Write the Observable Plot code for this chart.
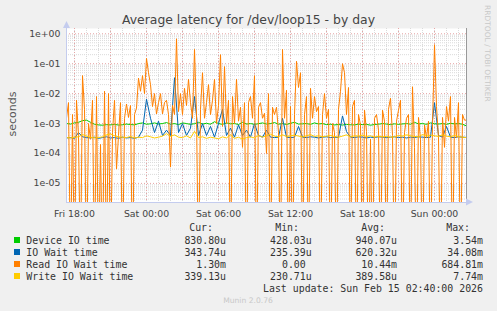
<!DOCTYPE html>
<html><head><meta charset="utf-8">
<script src="https://cdn.jsdelivr.net/npm/d3@7"></script>
<script src="https://cdn.jsdelivr.net/npm/@observablehq/plot@0.6"></script>
<style>
body{margin:0;background:#f0f0f0;width:497px;height:311px;overflow:hidden;position:relative;font-family:"DejaVu Sans"}
#chart{position:absolute;left:0;top:0}
#overlay{position:absolute;left:0;top:0;pointer-events:none}
</style></head><body>
<div id="chart"></div>
<svg id="overlay" width="497" height="311"></svg>
<script>
// ---- data ----
const startTime = "2026-02-13T17:20:00Z";
const endTime = "2026-02-15T02:40:00Z";
const readStepMin = 10;
const otherStepMin = 20;

const deviceIO = [1.0e-3,9.6e-4,1.05e-3,1.1e-3,1.25e-3,1.3e-3,1.1e-3,9.5e-4,9.0e-4,8.8e-4,
 9.2e-4,9.0e-4,9.4e-4,8.9e-4,9.1e-4,9.6e-4,9.3e-4,9.0e-4,1.0e-3,1.05e-3,
 9.5e-4,9.8e-4,1.05e-3,9.7e-4,1.0e-3,1.08e-3,9.5e-4,1.0e-3,9.2e-4,1.05e-3,
 1.0e-3,9.4e-4,9.9e-4,1.1e-3,9.6e-4,1.02e-3,9.5e-4,1.15e-3,1.0e-3,9.4e-4,
 1.05e-3,9.8e-4,1.0e-3,9.3e-4,1.1e-3,9.6e-4,1.0e-3,9.4e-4,9.9e-4,1.05e-3,
 9.7e-4,1.0e-3,1.08e-3,9.5e-4,1.0e-3,9.3e-4,1.02e-3,1.1e-3,9.6e-4,9.8e-4,
 1.0e-3,9.4e-4,1.05e-3,9.7e-4,1.0e-3,9.2e-4,9.5e-4,9.0e-4,9.3e-4,8.9e-4,
 9.4e-4,9.1e-4,9.0e-4,9.6e-4,9.2e-4,9.4e-4,8.8e-4,9.3e-4,9.5e-4,1.0e-3,
 9.6e-4,9.2e-4,9.8e-4,9.4e-4,9.7e-4,1.0e-3,9.5e-4,1.1e-3,9.7e-4,1.0e-3,
 9.4e-4,1.05e-3,9.8e-4,9.6e-4,1.0e-3,9.4e-4,1.02e-3,9.7e-4,1.0e-3,9.5e-4,8.3e-4];

const ioWait = [3.3e-4,3.4e-4,3.2e-4,5.0e-4,3.6e-4,3.4e-4,3.3e-4,3.5e-4,3.2e-4,3.4e-4,
 3.6e-4,3.3e-4,3.4e-4,3.2e-4,3.5e-4,3.3e-4,3.4e-4,3.2e-4,3.5e-4,6.0e-4,
 6.5e-3,1.5e-3,5.0e-4,1.2e-3,4.0e-4,6.0e-4,4.0e-4,3.4e-2,5.0e-4,1.0e-3,
 4.0e-4,7.0e-4,8.0e-3,4.0e-4,1.0e-3,4.0e-4,8.0e-4,3.5e-4,1.0e-3,3.0e-3,
 4.0e-4,7.0e-4,3.5e-4,9.0e-4,4.0e-4,6.0e-4,3.5e-4,1.0e-3,4.0e-4,3.5e-4,
 6.0e-4,3.5e-4,3.4e-4,3.5e-4,1.5e-3,3.5e-4,3.4e-4,3.5e-4,8.0e-4,3.5e-4,
 3.4e-4,3.6e-4,3.5e-4,3.3e-4,3.5e-4,3.6e-4,3.4e-4,3.5e-4,3.4e-4,1.8e-3,
 5.4e-4,3.5e-4,3.4e-4,3.6e-4,3.5e-4,3.3e-4,3.5e-4,3.4e-4,3.6e-4,3.5e-4,
 3.4e-4,3.5e-4,3.6e-4,3.4e-4,3.5e-4,3.3e-4,3.5e-4,3.4e-4,3.6e-4,3.5e-4,
 3.4e-4,3.5e-4,5.0e-3,4.0e-4,3.5e-4,8.0e-4,3.5e-4,3.4e-4,3.6e-4,3.5e-4,3.44e-4];

const readIOWait = [1.5e-3,5e-3,0,2e-3,0,6e-3,4e-4,0,4e-2,3e-3,
 0,1e-3,3e-4,6e-3,0,8e-3,0,2e-4,0,1.2e-2,
 0,1e-2,0,5e-4,6e-3,3e-5,4e-4,5e-3,0,1.5e-3,
 4.5e-3,1.6e-3,4e-3,0,2e-3,3.3e-3,3.3e-2,1.2e-2,4e-2,1e-2,
 0.15,5e-2,2e-2,3.7e-3,1e-2,2.1e-3,5e-3,1e-2,2.1e-3,5e-3,
 6e-3,2e-3,3.5e-5,4e-3,2e-3,0.68,2.5e-3,1e-2,2e-3,1.5e-2,
 4e-3,3e-2,5e-3,1.5e-3,0.3,2e-3,0,3e-3,5e-2,1.5e-3,
 5e-3,2e-2,2e-3,6e-3,3e-2,1e-3,4e-3,0.2,8e-4,8e-2,
 1e-3,6e-3,0,8e-3,1e-3,3e-2,1.2e-3,3.5e-3,1.6e-4,5e-3,
 0,5e-3,8e-3,1.5e-3,4e-2,0,3.5e-3,5e-3,1.5e-3,2.2e-3,
 1e-4,1e-2,0,3.5e-3,2e-3,3.5e-3,5e-4,0,0.3,1.5e-3,
 1.3e-2,0,3.7e-3,0,2e-3,0.12,1.6e-2,5e-2,0,2e-3,
 8e-3,0,1.5e-2,1.5e-3,8e-3,2.5e-3,3.7e-3,0,2e-3,1e-2,
 1.5e-3,3e-3,0,1e-3,5e-4,0,3e-3,1.2e-2,0.1,5e-2,
 2e-3,1.6e-2,0,3.7e-3,6e-3,0,2e-3,9e-4,0,2.8e-3,
 5.4e-4,0,3e-4,0,1.5e-3,2e-3,6e-4,0,2.8e-3,1.2e-3,
 0,3e-3,7e-3,4e-4,0,1.2e-3,2.8e-3,6e-3,0,5e-4,
 1.5e-3,2e-3,0,1.7e-2,1.6e-4,0,1.6e-3,3e-4,0,9e-4,
 3.3e-4,1.2e-3,0,9e-4,0.43,3.7e-3,3.3e-4,0,1.6e-3,1.6e-4,
 3.7e-3,1.2e-3,8e-3,0,1.6e-3,3.3e-4,5e-3,0,2e-3,1.3e-3,1.3e-3];

const writeIOWait = [3.4e-4,3.3e-4,3.5e-4,3.6e-4,4.3e-4,3.8e-4,3.5e-4,3.3e-4,3.4e-4,3.6e-4,
 4.2e-4,4.5e-4,3.9e-4,3.6e-4,3.5e-4,3.4e-4,3.7e-4,3.3e-4,3.5e-4,3.4e-4,
 3.9e-4,3.6e-4,3.3e-4,3.5e-4,3.8e-4,4.6e-4,3.7e-4,4.2e-4,3.5e-4,3.4e-4,
 3.9e-4,3.3e-4,5.5e-4,3.4e-4,3.6e-4,3.2e-4,3.5e-4,3.3e-4,3.1e-4,3.6e-4,
 3.3e-4,4.2e-4,3.2e-4,3.5e-4,3.0e-4,3.4e-4,3.6e-4,3.3e-4,4.0e-4,3.5e-4,
 3.9e-4,4.4e-4,3.8e-4,3.6e-4,4.2e-4,3.7e-4,3.9e-4,4.1e-4,3.8e-4,3.6e-4,
 3.9e-4,4.3e-4,3.7e-4,3.9e-4,3.6e-4,3.8e-4,4.0e-4,3.7e-4,3.5e-4,3.8e-4,
 4.2e-4,3.6e-4,3.9e-4,3.8e-4,4.1e-4,3.7e-4,3.9e-4,3.5e-4,3.8e-4,3.6e-4,
 3.7e-4,3.5e-4,3.6e-4,4.0e-4,3.8e-4,4.2e-4,3.9e-4,3.7e-4,3.6e-4,4.3e-4,
 3.8e-4,4.1e-4,3.9e-4,3.7e-4,4.2e-4,3.8e-4,3.6e-4,4.0e-4,3.7e-4,3.5e-4,3.39e-4];

const yTickValues = [1e-5,1e-4,1e-3,1e-2,1e-1,1e0];
const yTickLabels = ["1e-05","1e-04","1e-03","1e-02","1e-01","1e+00"];

const seriesNames = ["Device IO time","IO Wait time","Read IO Wait time","Write IO Wait time"];
const seriesColors = ["#00cc00","#0066b3","#ff8000","#ffcc00"];
const curText = ["830.80u","343.74u","1.30m","339.13u"];
const minText = ["428.03u","235.39u","0.00 ","230.71u"];
const avgText = ["940.07u","620.32u","10.44m","389.58u"];
const maxText = ["3.54m","34.08m","684.81m","7.74m"];
const headers = ["Cur:","Min:","Avg:","Max:"];
const titleText = "Average latency for /dev/loop15 - by day";
const yLabel = "seconds";
const lastUpdate = "Last update: Sun Feb 15 02:40:00 2026";
const footer = "Munin 2.0.76";
const watermark = "RRDTOOL / TOBI OETIKER";

// ---- build ----
const t0 = new Date(startTime), t1 = new Date(endTime);
const toRows = (vals, step) => vals.map((v, i) => ({t: new Date(+t0 + i * step * 60000), v}));
const yMin = 2.3e-6, yMax = 1.5;
const floorY = d => Math.max(d.v, 1e-8);

const minorX = d3.utcHour.range(t0, t1);
const majorX = d3.utcHour.every(3).range(t0, t1);
const labelX = d3.utcHour.every(6).range(t0, t1);
const minorY = [];
for (let e = -6; e <= 0; e++) for (let m = 2; m <= 9; m++) { const v = m * Math.pow(10, e); if (v > yMin && v < yMax) minorY.push(v); }
const labelMap = new Map(yTickValues.map((v, i) => [v, yTickLabels[i]]));

const lineOpts = (c) => ({x: "t", y: floorY, stroke: c, strokeWidth: 1, clip: true});

const plot = Plot.plot({
  width: 497, height: 220,
  marginLeft: 66, marginRight: 31, marginTop: 28, marginBottom: 18,
  style: {background: "transparent", fontFamily: "DejaVu Sans", fontSize: "9.33px", color: "#444", overflow: "visible"},
  x: {type: "utc", domain: [t0, t1]},
  y: {type: "log", domain: [yMin, yMax]},
  marks: [
    Plot.frame({fill: "white", stroke: null}),
    Plot.gridX(minorX, {stroke: "#dadada", strokeOpacity: 1, strokeDasharray: "1,1"}),
    Plot.gridY(minorY, {stroke: "#dadada", strokeOpacity: 1, strokeDasharray: "1,1"}),
    Plot.gridX(majorX, {stroke: "#e6a4a4", strokeOpacity: 1, strokeDasharray: "1,2"}),
    Plot.gridY(yTickValues, {stroke: "#e6a4a4", strokeOpacity: 1, strokeDasharray: "1,2"}),
    Plot.line(toRows(deviceIO, otherStepMin), lineOpts(seriesColors[0])),
    Plot.line(toRows(ioWait, otherStepMin), lineOpts(seriesColors[1])),
    Plot.line(toRows(readIOWait, readStepMin), lineOpts(seriesColors[2])),
    Plot.line(toRows(writeIOWait, otherStepMin), lineOpts(seriesColors[3])),
    Plot.ruleY([yMin], {stroke: "#c4ccee"}),
    Plot.ruleX([t0], {stroke: "#c4ccee"}),
    Plot.ruleX([t1], {stroke: "#999"}),
    Plot.axisX(labelX, {tickSize: 0, tickPadding: 8, tickFormat: d3.utcFormat("%a %H:%M"), label: null, fill: "#444"}),
    Plot.axisY(yTickValues, {tickSize: 0, tickPadding: 6, tickFormat: d => labelMap.get(d), label: null, fill: "#444"})
  ]
});
document.getElementById("chart").appendChild(plot);

// ---- overlay: title, labels, legend ----
const ov = d3.select("#overlay");
ov.append("text").attr("x", 248.5).attr("y", 24).attr("text-anchor", "middle")
  .style("font", "12.4px 'DejaVu Sans'").attr("fill", "#444").text(titleText);
ov.append("text").attr("transform", "translate(12,114) rotate(-90)").attr("text-anchor", "middle")
  .attr("dominant-baseline", "central").style("font", "11px 'DejaVu Sans'").attr("fill", "#555").text(yLabel);
ov.append("text").attr("transform", "translate(487.5,5) rotate(90)").attr("text-anchor", "start")
  .attr("dominant-baseline", "central").style("font", "7.5px 'DejaVu Sans'").attr("fill", "#c8c8c8").text(watermark);
// axis arrows
ov.append("path").attr("d", "M63,28 L66.5,21 L70,28 Z").attr("fill", "#c4ccee");
ov.append("path").attr("d", "M466,198.5 L473,202 L466,205.5 Z").attr("fill", "#c4ccee");

const mono = "9.9px 'DejaVu Sans Mono'";
const headEnds = [213, 299, 385, 470];
headers.forEach((h, i) => ov.append("text").attr("x", headEnds[i]).attr("y", 230.5).attr("text-anchor", "end")
  .style("font", mono).attr("fill", "#333").text(h));
const rowY = [240, 252, 264, 276];
const colEnds = [226, 311.7, 397, 483];
const cols = [curText, minText, avgText, maxText];
seriesNames.forEach((n, r) => {
  ov.append("rect").attr("x", 14).attr("y", rowY[r] - 3).attr("width", 6).attr("height", 6).attr("fill", seriesColors[r]);
  ov.append("text").attr("x", 26.3).attr("y", rowY[r] + 3.5).style("font", mono).attr("fill", "#333").text(n);
  cols.forEach((c, k) => ov.append("text").attr("x", colEnds[k]).attr("y", rowY[r] + 3.5).attr("text-anchor", "end")
    .style("font", mono).style("white-space", "pre").attr("fill", "#333").text(c[r]));
});
ov.append("text").attr("x", 483).attr("y", 291.5).attr("text-anchor", "end").style("font", mono).attr("fill", "#333").text(lastUpdate);
ov.append("text").attr("x", 248).attr("y", 302.7).attr("text-anchor", "middle").style("font", "7.6px 'DejaVu Sans'").attr("fill", "#c8c8c8").text(footer);
</script>
</body></html>
